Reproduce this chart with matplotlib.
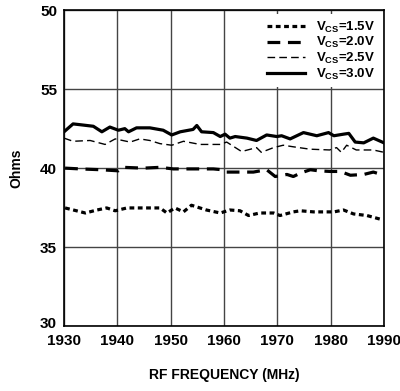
import matplotlib
matplotlib.use('Agg')
import matplotlib.pyplot as plt
import matplotlib.transforms as mtransforms

plt.rcParams['font.family'] = ['Liberation Sans Narrow', 'Liberation Sans', 'DejaVu Sans']
plt.rcParams['font.weight'] = 'bold'

# Vcs = 1.5V
freq_15 = [1930.2, 1934, 1936.2, 1938, 1939.6, 1941.8, 1948, 1949.3, 1950.8, 1952.4,
           1953.9, 1956.7, 1959.3, 1961.1, 1963, 1964.6, 1966.7, 1969.3, 1970.5, 1973,
           1974.3, 1976.8, 1979.3, 1980.6, 1982.4, 1984.3, 1986.8, 1989.6]
ohms_15 = [37.48, 37.16, 37.35, 37.48, 37.3, 37.48, 37.48, 37.16, 37.48, 37.23,
           37.65, 37.35, 37.16, 37.35, 37.3, 37.0, 37.16, 37.16, 37.0, 37.23,
           37.3, 37.23, 37.23, 37.23, 37.35, 37.1, 37.0, 36.74]

# Vcs = 2.0V
freq_20 = [1930.2, 1933, 1936.8, 1940.2, 1941.1, 1944.9, 1948, 1950.5, 1955, 1958,
           1959.6, 1960.5, 1965.5, 1968, 1969.6, 1971.8, 1973, 1974.3, 1976.2, 1977.7,
           1979.9, 1981.8, 1983.7, 1986.2, 1988, 1990]
ohms_20 = [40.0, 39.95, 39.9, 39.83, 40.05, 40.0, 40.05, 39.95, 39.95, 39.95,
           39.9, 39.75, 39.75, 39.9, 39.47, 39.6, 39.47, 39.68, 39.9, 39.83,
           39.79, 39.79, 39.55, 39.6, 39.75, 39.55]

# Vcs = 2.5V
freq_25 = [1930, 1931.7, 1934.9, 1937.7, 1939.6, 1942.4, 1944.2, 1946.1, 1948, 1950.2,
           1952.4, 1955.5, 1959.3, 1960.5, 1963.3, 1966.1, 1967, 1969.3, 1971.1, 1973,
           1976.1, 1979.8, 1981.1, 1982, 1983, 1984.8, 1988, 1990]
ohms_25 = [41.9, 41.7, 41.75, 41.5, 41.85, 41.65, 41.85, 41.75, 41.55, 41.45,
           41.7, 41.5, 41.5, 41.65, 41.05, 41.3, 41.0, 41.3, 41.45, 41.35,
           41.2, 41.15, 41.3, 41.0, 41.45, 41.15, 41.15, 41.0]

# Vcs = 3.0V
freq_30 = [1930, 1931.7, 1933, 1935.5, 1937.1, 1938.6, 1940.2, 1941.4, 1942.1, 1943.6,
           1946.1, 1948.6, 1950.2, 1951.8, 1954.2, 1954.9, 1955.8, 1958, 1959.3, 1960.2,
           1961.1, 1962.1, 1964.3, 1966.1, 1968, 1969.9, 1970.8, 1972.4, 1974.9, 1977.4,
           1979.6, 1980.6, 1982.4, 1983.4, 1984.6, 1986.2, 1988, 1990]
ohms_30 = [42.3, 42.8, 42.75, 42.65, 42.3, 42.6, 42.4, 42.5, 42.3, 42.55,
           42.55, 42.4, 42.1, 42.3, 42.45, 42.7, 42.3, 42.25, 42.0, 42.15,
           41.9, 42.0, 41.9, 41.75, 42.1, 42.0, 42.05, 41.85, 42.25, 42.05,
           42.25, 42.05, 42.15, 42.2, 41.65, 41.6, 41.9, 41.6]

x_ticks = [1930, 1940, 1950, 1960, 1970, 1980, 1990]
y_ticks = [30, 35, 40, 45, 50]
y_tick_labels = ['30', '35', '40', '55', '50']

fig = plt.figure(figsize=(4.0, 3.91), dpi=100)
ax = fig.add_axes([0.16, 0.166, 0.80, 0.808])

ax.plot(freq_15, ohms_15, color='black', lw=2.3, dashes=(1.5, 1.1),
        label='V$_{\\mathregular{CS}}$=1.5V')
ax.plot(freq_20, ohms_20, color='black', lw=2.3, dashes=(4.0, 2.4),
        label='V$_{\\mathregular{CS}}$=2.0V')
ax.plot(freq_25, ohms_25, color='black', lw=1.0, dashes=(5.5, 3.0),
        label='V$_{\\mathregular{CS}}$=2.5V')
ax.plot(freq_30, ohms_30, color='black', lw=2.3,
        label='V$_{\\mathregular{CS}}$=3.0V')

ax.set_xlim(1930, 1990)
ax.set_ylim(30, 50)
ax.set_xticks(x_ticks)
ax.set_yticks(y_ticks)
ax.set_yticklabels(y_tick_labels)
ax.tick_params(length=0, labelsize=11, pad=5)
ax.tick_params(axis='x', pad=6)
ax.grid(True, color='#444444', lw=1.0)
for s in ax.spines.values():
    s.set_linewidth(1.2)

# lift the bottom "30" a little so it sits above "1930"
lbl = ax.get_yticklabels()[0]
lbl.set_transform(lbl.get_transform() +
                  mtransforms.ScaledTranslation(0, 4 / 100, fig.dpi_scale_trans))

ax.set_xlabel('RF FREQUENCY (MHz)', fontsize=10, fontweight='bold', labelpad=14)
ax.set_ylabel('Ohms', fontsize=10, fontweight='bold', labelpad=12)

leg = ax.legend(loc='upper right', frameon=True, fontsize=9.5, handlelength=2.9,
                labelspacing=0.05, borderaxespad=0.3, handletextpad=0.8,
                borderpad=0.4)
leg.get_frame().set_edgecolor('none')
leg.get_frame().set_facecolor('white')
leg.get_frame().set_alpha(1.0)

fig.savefig('out.png', dpi=100)
